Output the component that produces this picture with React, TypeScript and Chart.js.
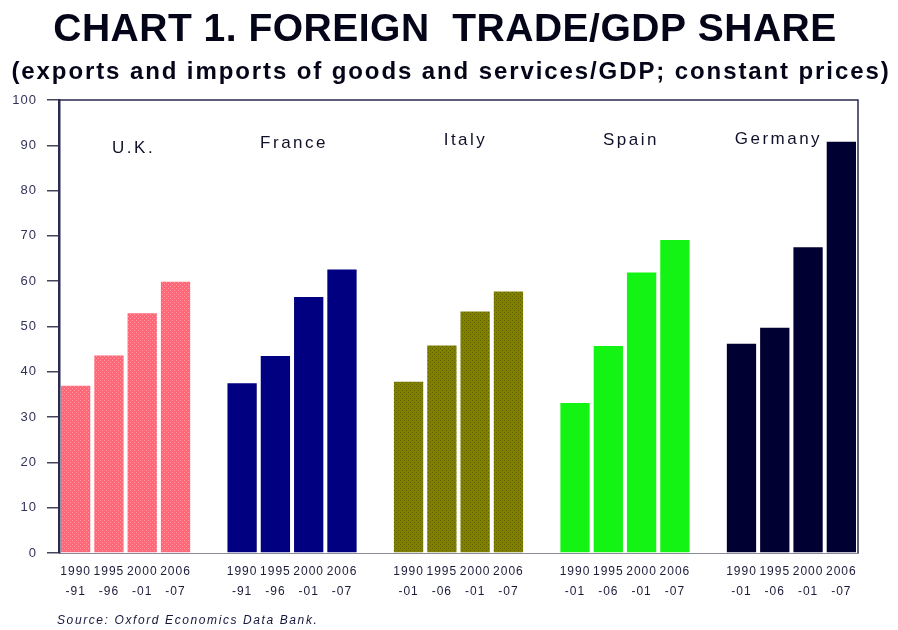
import React, { useEffect, useRef } from "react";
import { Chart, registerables } from "chart.js";

Chart.register(...registerables);

const titleText = "CHART 1. FOREIGN  TRADE/GDP SHARE";
const subtitleText = "(exports and imports of goods and services/GDP; constant prices)";
const sourceText = "Source: Oxford Economics Data Bank.";

const countries = ["U.K.", "France", "Italy", "Spain", "Germany"];
const countryLabelLevels = [89.4, 90.5, 91, 91, 91.4];
const countryLabelShift = [8, 2, 7, 6, -13];
const periodStarts = ["1990", "1995", "2000", "2006"];
const ukPeriodEnds = ["-91", "-96", "-01", "-07"];
const francePeriodEnds = ["-91", "-96", "-01", "-07"];
const italyPeriodEnds = ["-01", "-06", "-01", "-07"];
const spainPeriodEnds = ["-01", "-06", "-01", "-07"];
const germanyPeriodEnds = ["-01", "-06", "-01", "-07"];

const ukValues = [36.9, 43.6, 52.9, 59.9];
const franceValues = [37.5, 43.5, 56.5, 62.6];
const italyValues = [37.8, 45.8, 53.3, 57.7];
const spainValues = [33.1, 45.7, 61.9, 69.1];
const germanyValues = [46.2, 49.7, 67.5, 90.8];

const yTicksMin = 0;
const yTicksMax = 100;
const yTicksStep = 10;

function makePattern(base: string, dot: string) {
  const c = document.createElement("canvas");
  c.width = 4;
  c.height = 4;
  const g = c.getContext("2d")!;
  g.fillStyle = base;
  g.fillRect(0, 0, 4, 4);
  g.fillStyle = dot;
  g.fillRect(0, 0, 1, 1);
  g.fillRect(2, 2, 1, 1);
  return g.createPattern(c, "repeat") as CanvasPattern;
}

export default function App() {
  const ref = useRef<HTMLCanvasElement | null>(null);

  useEffect(() => {
    document.body.style.margin = "0";
    const canvas = ref.current!;
    const groupValues = [ukValues, franceValues, italyValues, spainValues, germanyValues];
    const groupEnds = [ukPeriodEnds, francePeriodEnds, italyPeriodEnds, spainPeriodEnds, germanyPeriodEnds];
    const fills: any[] = [
      makePattern("#ff6878", "#ff98a2"),
      "#000080",
      makePattern("#808000", "#5e5e00"),
      "#14f414",
      "#000033",
    ];

    const labels: any[] = [];
    const data: (number | null)[] = [];
    const colors: any[] = [];
    const groupIndex: { first: number; last: number }[] = [];
    groupValues.forEach((vals, g) => {
      if (g > 0) {
        labels.push("");
        data.push(null);
        colors.push("rgba(0,0,0,0)");
      }
      const first = data.length;
      vals.forEach((v, i) => {
        labels.push([periodStarts[i], groupEnds[g][i]]);
        data.push(v);
        colors.push(fills[g]);
      });
      groupIndex.push({ first, last: data.length - 1 });
    });

    const decor = {
      id: "decor",
      beforeDraw(chart: any) {
        const ctx = chart.ctx;
        ctx.save();
        ctx.fillStyle = "#ffffff";
        ctx.fillRect(0, 0, chart.width, chart.height);
        ctx.restore();
        ctx.letterSpacing = "1px";
      },
      afterDraw(chart: any) {
        const ctx = chart.ctx;
        const a = chart.chartArea;
        const x = chart.scales.x;
        const y = chart.scales.y;
        ctx.save();
        // plot box (top, right)
        ctx.strokeStyle = "#2a2a52";
        ctx.lineWidth = 1.5;
        ctx.beginPath();
        ctx.moveTo(a.left, a.top);
        ctx.lineTo(a.right, a.top);
        ctx.lineTo(a.right, a.bottom);
        ctx.stroke();

        // country labels
        ctx.letterSpacing = "2.5px";
        ctx.font = '17px "Liberation Sans", Arial, sans-serif';
        ctx.fillStyle = "#10102a";
        ctx.textAlign = "center";
        ctx.textBaseline = "middle";
        countries.forEach((name, g) => {
          const gi = groupIndex[g];
          const cx = (x.getPixelForValue(gi.first) + x.getPixelForValue(gi.last)) / 2;
          ctx.fillText(name, cx + countryLabelShift[g], y.getPixelForValue(countryLabelLevels[g]));
        });

        // title
        ctx.fillStyle = "#05051a";
        ctx.letterSpacing = "0.5px";
        ctx.font = 'bold 39px "Liberation Sans", Arial, sans-serif';
        ctx.fillText(titleText, 445, 30);
        ctx.letterSpacing = "1.9px";
        ctx.font = 'bold 24px "Liberation Sans", Arial, sans-serif';
        ctx.fillText(subtitleText, 451, 72);

        // source
        ctx.textAlign = "left";
        ctx.letterSpacing = "1.6px";
        ctx.font = 'italic 12px "Liberation Sans", Arial, sans-serif';
        ctx.fillStyle = "#15153a";
        ctx.fillText(sourceText, 57, 621);
        ctx.restore();
        ctx.letterSpacing = "0px";
      },
    };

    const chart = new Chart(canvas, {
      type: "bar",
      data: {
        labels,
        datasets: [
          {
            data,
            backgroundColor: colors,
            borderWidth: 0,
            barPercentage: 0.88,
            categoryPercentage: 1,
          },
        ],
      },
      options: {
        responsive: false,
        animation: false,
        devicePixelRatio: 1,
        layout: { padding: { left: 0, right: 40, top: 100, bottom: 0 } },
        plugins: {
          legend: { display: false },
          tooltip: { enabled: false },
          title: { display: false },
        },
        scales: {
          x: {
            grid: { display: false },
            border: { display: true, color: "#8a8a9a", width: 1 },
            ticks: {
              autoSkip: false,
              maxRotation: 0,
              minRotation: 0,
              padding: 1,
              color: "#1a1a3a",
              font: { family: '"Liberation Sans", Arial, sans-serif', size: 12, lineHeight: 1.67 },
            },
            afterFit(scale: any) {
              scale.height = 77;
            },
          },
          y: {
            min: yTicksMin,
            max: yTicksMax,
            ticks: {
              stepSize: yTicksStep,
              padding: 10,
              color: "#33335a",
              font: { family: '"Liberation Sans", Arial, sans-serif', size: 13 },
            },
            grid: {
              drawOnChartArea: false,
              drawTicks: true,
              tickLength: 12,
              color: "#44445a",
              lineWidth: 1.5,
            },
            border: { display: true, color: "#2a2a52", width: 2.5 },
            afterFit(scale: any) {
              scale.width = 59;
            },
          },
        },
      },
      plugins: [decor],
    });
    return () => chart.destroy();
  }, []);

  return (
    <div style={{ position: "absolute", left: 0, top: 0, width: 898, height: 630 }}>
      <canvas ref={ref} width={898} height={630} style={{ width: 898, height: 630 }} />
    </div>
  );
}
